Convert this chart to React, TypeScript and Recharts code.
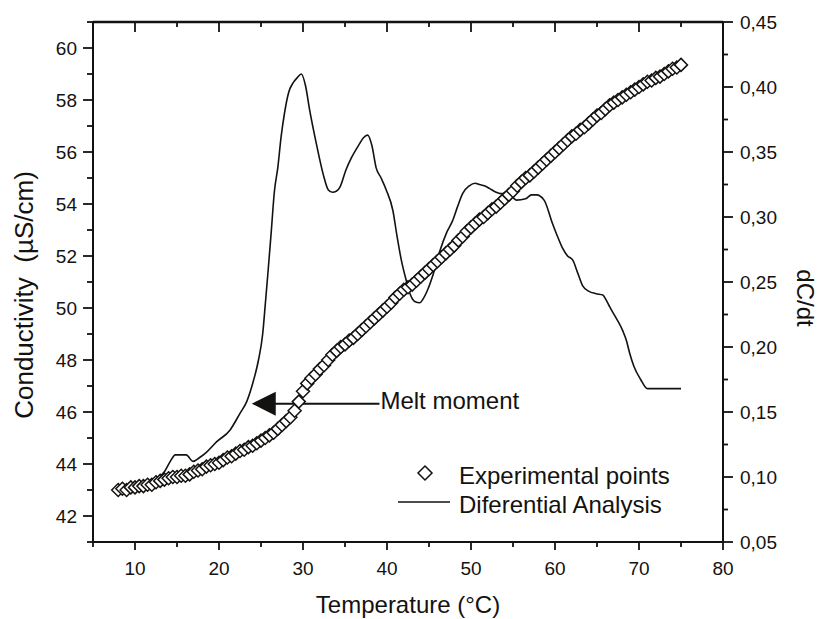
import React from 'react';
import { ComposedChart, Line, Scatter, XAxis, YAxis, ReferenceLine, Legend } from 'recharts';

// Experimental points: temperature (°C) and conductivity (µS/cm)
const expTemp = [
  8, 8.5, 9, 9.5, 10, 10.5, 11, 11.5, 12, 12.5, 13, 13.5, 14, 14.5, 15, 15.5, 16, 16.5, 17, 17.5,
  18, 18.5, 19, 19.5, 20, 20.5, 21, 21.5, 22, 22.5, 23, 23.5, 24, 24.5, 25, 25.5, 26, 26.5, 27, 27.5,
  28, 28.5, 29, 29.5, 30, 30.5, 31, 31.5, 32, 32.5, 33, 33.5, 34, 34.5, 35, 35.5, 36, 36.5, 37, 37.5,
  38, 38.5, 39, 39.5, 40, 40.5, 41, 41.5, 42, 42.5, 43, 43.5, 44, 44.5, 45, 45.5, 46, 46.5, 47, 47.5,
  48, 48.5, 49, 49.5, 50, 50.5, 51, 51.5, 52, 52.5, 53, 53.5, 54, 54.5, 55, 55.5, 56, 56.5, 57, 57.5,
  58, 58.5, 59, 59.5, 60, 60.5, 61, 61.5, 62, 62.5, 63, 63.5, 64, 64.5, 65, 65.5, 66, 66.5, 67, 67.5,
  68, 68.5, 69, 69.5, 70, 70.5, 71, 71.5, 72, 72.5, 73, 73.5, 74, 74.5, 75,
];
const expCond = [
  43.0, 43.05, 43.0, 43.1, 43.1, 43.15, 43.15, 43.2, 43.2, 43.3, 43.35, 43.4, 43.45, 43.5, 43.5, 43.55, 43.55, 43.6, 43.7, 43.75,
  43.8, 43.9, 43.95, 44.0, 44.05, 44.15, 44.25, 44.3, 44.4, 44.5, 44.55, 44.65, 44.7, 44.8, 44.9, 45.0, 45.1, 45.2, 45.35, 45.5,
  45.65, 45.8, 46.05, 46.4, 46.8, 47.1, 47.3, 47.45, 47.65, 47.8, 48.0, 48.2, 48.35, 48.5, 48.6, 48.75, 48.85, 49.0, 49.15, 49.3,
  49.45, 49.6, 49.75, 49.9, 50.05, 50.2, 50.4, 50.55, 50.7, 50.8, 50.9, 51.05, 51.2, 51.35, 51.5, 51.65, 51.8, 51.95, 52.1, 52.25,
  52.4, 52.6, 52.75, 52.95, 53.1, 53.25, 53.4, 53.5, 53.65, 53.8, 53.9, 54.05, 54.2, 54.35, 54.5, 54.7, 54.85, 55.0, 55.1, 55.25,
  55.4, 55.55, 55.7, 55.85, 56.0, 56.15, 56.3, 56.45, 56.6, 56.7, 56.85, 56.95, 57.1, 57.25, 57.4, 57.5, 57.65, 57.8, 57.9, 58.0,
  58.1, 58.2, 58.3, 58.4, 58.5, 58.6, 58.7, 58.75, 58.85, 58.9, 59.0, 59.1, 59.2, 59.25, 59.35,
];

// Differential analysis: temperature (°C) and dC/dt
const diffTemp = [
  8.0, 9.5, 11.0, 12.5, 13.5, 14.2, 14.8, 16.1, 16.9, 17.7, 18.5, 19.7, 21.3, 22.5, 23.3, 24.1, 24.7, 25.2, 25.5, 25.8,
  26.2, 26.6, 27.0, 27.4, 27.8, 28.3, 28.8, 29.3, 29.8, 30.3, 30.8, 31.6, 32.4, 33.0, 33.5, 34.0, 34.4, 35.1, 35.8, 36.7,
  37.2, 37.7, 38.2, 38.7, 39.3, 39.9, 40.7, 41.2, 41.7, 42.3, 42.8, 43.3, 43.9, 44.3, 44.9, 45.5, 46.3, 47.1, 47.8, 48.4,
  49.0, 49.8, 50.5, 51.0, 51.6, 52.2, 53.0, 53.5, 54.3, 55.0, 55.4, 56.5, 57.2, 57.8, 58.7, 59.7, 60.3, 60.9, 61.5, 62.1,
  62.7, 63.3, 64.0, 64.9, 65.7, 66.1, 66.5, 67.3, 68.1, 68.5, 68.9, 69.4, 70.2, 71.0, 75.0,
];
const diffRate = [
  0.090, 0.091, 0.094, 0.098, 0.104, 0.112, 0.117, 0.117, 0.112, 0.115, 0.119, 0.127, 0.136, 0.149, 0.158, 0.174, 0.190, 0.210, 0.232, 0.255,
  0.287, 0.320, 0.338, 0.362, 0.380, 0.396, 0.403, 0.407, 0.410, 0.401, 0.382, 0.356, 0.333, 0.321, 0.319, 0.320, 0.323, 0.336, 0.346, 0.356,
  0.361, 0.363, 0.355, 0.338, 0.330, 0.321, 0.305, 0.285, 0.267, 0.251, 0.240, 0.235, 0.234, 0.237, 0.245, 0.256, 0.274, 0.288, 0.297, 0.308,
  0.318, 0.324, 0.326, 0.325, 0.324, 0.322, 0.319, 0.318, 0.318, 0.315, 0.313, 0.314, 0.317, 0.317, 0.313, 0.295, 0.285, 0.276, 0.270, 0.267,
  0.257, 0.247, 0.243, 0.241, 0.240, 0.236, 0.231, 0.222, 0.212, 0.205, 0.195, 0.185, 0.175, 0.168, 0.168,
];

// Axis ticks
const xTicks = [5, 10, 15, 20, 25, 30, 35, 40, 45, 50, 55, 60, 65, 70, 75, 80];
const xMajorTicks = [10, 20, 30, 40, 50, 60, 70, 80];
const leftTicks = [41, 42, 43, 44, 45, 46, 47, 48, 49, 50, 51, 52, 53, 54, 55, 56, 57, 58, 59, 60, 61];
const leftMajorTicks = [42, 44, 46, 48, 50, 52, 54, 56, 58, 60];
const leftMax = 61;
const rightTicks = [0.05, 0.075, 0.1, 0.125, 0.15, 0.175, 0.2, 0.225, 0.25, 0.275, 0.3, 0.325, 0.35, 0.375, 0.4, 0.425, 0.45];
const rightMajorTicks = [0.05, 0.1, 0.15, 0.2, 0.25, 0.3, 0.35, 0.4, 0.45];
const rightTickLabels = ['0,05', '0,10', '0,15', '0,20', '0,25', '0,30', '0,35', '0,40', '0,45'];

// Annotation
const meltTip = { t: 23.9, c: 46.32 };
const meltEnd = { t: 39.1, c: 46.32 };
const meltLabel = 'Melt moment';

const expData = expTemp.map((t, i) => ({ t, c: expCond[i] }));
const diffData = diffTemp.map((t, i) => ({ t, r: diffRate[i] }));

const FONT = '"Liberation Sans", Arial, Helvetica, sans-serif';
const INK = '#141210';

const BottomTick = (props: any) => {
  const { x, y, payload } = props;
  const major = xMajorTicks.includes(payload.value);
  return (
    <g>
      <line x1={x} x2={x} y1={y} y2={y + (major ? 8 : 5)} stroke={INK} strokeWidth={1.8} />
      {major && (
        <text x={x} y={y + 33} textAnchor="middle" fontFamily={FONT} fontSize={19} fill={INK}>
          {payload.value}
        </text>
      )}
    </g>
  );
};

const TopTick = (props: any) => {
  const { x, y, payload } = props;
  const major = xMajorTicks.includes(payload.value);
  return <line x1={x} x2={x} y1={y} y2={y + (major ? 10 : 5)} stroke={INK} strokeWidth={1.8} />;
};

const LeftTick = (props: any) => {
  const { x, y, payload } = props;
  const major = leftMajorTicks.includes(payload.value);
  return (
    <g>
      <line x1={x} x2={x - (major ? 10 : 6)} y1={y} y2={y} stroke={INK} strokeWidth={1.8} />
      {major && (
        <text x={x - 16} y={y} dy="0.36em" textAnchor="end" fontFamily={FONT} fontSize={19} fill={INK}>
          {payload.value}
        </text>
      )}
    </g>
  );
};

const RightTick = (props: any) => {
  const { x, y, payload } = props;
  const idx = rightMajorTicks.findIndex((v) => Math.abs(v - payload.value) < 1e-6);
  const major = idx >= 0;
  return (
    <g>
      <line x1={x} x2={x + (major ? 10 : 5)} y1={y} y2={y} stroke={INK} strokeWidth={1.8} />
      {major && (
        <text x={x + 17} y={y} dy="0.36em" textAnchor="start" fontFamily={FONT} fontSize={19} fill={INK}>
          {rightTickLabels[idx]}
        </text>
      )}
    </g>
  );
};

const Diamond = (props: any) => {
  const { cx, cy } = props;
  if (cx == null || cy == null) return null;
  const s = 6.5;
  return (
    <polygon
      points={`${cx},${cy - s} ${cx + s},${cy} ${cx},${cy + s} ${cx - s},${cy}`}
      fill="#fff"
      stroke={INK}
      strokeWidth={1.5}
    />
  );
};

const MeltArrow = (props: any) => {
  const { x1, y1, x2 } = props;
  if (x1 == null) return null;
  return (
    <g>
      <polygon points={`${x1},${y1} ${x1 + 24},${y1 - 12} ${x1 + 24},${y1 + 12}`} fill={INK} />
      <line x1={x1 + 20} x2={x2} y1={y1} y2={y1} stroke={INK} strokeWidth={2} />
      <text x={x2 + 1} y={y1 + 5} fontFamily={FONT} fontSize={24} fill={INK}>
        {meltLabel}
      </text>
    </g>
  );
};

const LegendBox = () => (
  <svg width={320} height={64} style={{ display: 'block', overflow: 'visible' }}>
    <polygon points="35,6 42,13 35,20 28,13" fill="#fff" stroke={INK} strokeWidth={1.5} />
    <text x={69} y={24} fontFamily={FONT} fontSize={24} fill={INK}>Experimental points</text>
    <line x1={8} x2={60} y1={42} y2={42} stroke={INK} strokeWidth={1.6} />
    <text x={69} y={53} fontFamily={FONT} fontSize={24} fill={INK}>Diferential Analysis</text>
  </svg>
);

export default function App() {
  return (
    <div style={{ position: 'absolute', left: 0, top: 0, width: 818, height: 619, background: '#fff' }}>
      <ComposedChart width={818} height={619} margin={{ top: 21, right: 0, bottom: 0, left: 0 }}>
        <XAxis
          xAxisId="bottom"
          dataKey="t"
          type="number"
          domain={[5, 80]}
          ticks={xTicks}
          allowDataOverflow
          orientation="bottom"
          height={77}
          tickSize={0}
          tickMargin={0}
          tickLine={false}
          tick={<BottomTick />}
          interval={0}
          axisLine={{ stroke: INK, strokeWidth: 2 }}
          label={{
            content: (p: any) => {
              const vb = p.viewBox;
              return (
                <text x={vb.x + vb.width / 2} y={vb.y + 71} textAnchor="middle" fontFamily={FONT} fontSize={24} fill={INK}>
                  Temperature (°C)
                </text>
              );
            },
          }}
        />
        <XAxis
          xAxisId="top"
          dataKey="t"
          type="number"
          domain={[5, 80]}
          ticks={xTicks}
          allowDataOverflow
          orientation="top"
          height={1}
          tickSize={0}
          tickMargin={0}
          tickLine={false}
          tick={<TopTick />}
          interval={0}
          axisLine={{ stroke: INK, strokeWidth: 2.5 }}
        />
        <YAxis
          yAxisId="left"
          dataKey="c"
          type="number"
          domain={[41, 61]}
          ticks={leftTicks}
          allowDataOverflow
          orientation="left"
          width={93}
          tickSize={0}
          tickMargin={0}
          tickLine={false}
          tick={<LeftTick />}
          interval={0}
          axisLine={{ stroke: INK, strokeWidth: 2 }}
          label={{
            content: (p: any) => {
              const vb = p.viewBox;
              const cx = vb.x + 33;
              const cy = vb.y + vb.height / 2 + 13;
              return (
                <text x={cx} y={cy} textAnchor="middle" fontFamily={FONT} fontSize={26} fill={INK} transform={`rotate(-90, ${cx}, ${cy})`}>
                  {'Conductivity\u00A0 (µS/cm)'}
                </text>
              );
            },
          }}
        />
        <YAxis
          yAxisId="right"
          dataKey="r"
          type="number"
          domain={[0.05, 0.45]}
          ticks={rightTicks}
          allowDataOverflow
          orientation="right"
          width={95}
          tickSize={0}
          tickMargin={0}
          tickLine={false}
          tick={<RightTick />}
          interval={0}
          axisLine={{ stroke: INK, strokeWidth: 2 }}
          label={{
            content: (p: any) => {
              const vb = p.viewBox;
              const cx = vb.x + 74;
              const cy = vb.y + vb.height / 2 + 16;
              return (
                <text x={cx} y={cy} textAnchor="middle" fontFamily={FONT} fontSize={24} fill={INK} transform={`rotate(90, ${cx}, ${cy})`}>
                  dC/dt
                </text>
              );
            },
          }}
        />
        <Line
          xAxisId="bottom"
          yAxisId="right"
          data={diffData}
          dataKey="r"
          type="monotone"
          stroke={INK}
          strokeWidth={1.6}
          dot={false}
          activeDot={false}
          isAnimationActive={false}
        />
        <Scatter
          xAxisId="bottom"
          yAxisId="left"
          data={expData}
          dataKey="c"
          shape={<Diamond />}
          isAnimationActive={false}
        />
        <ReferenceLine xAxisId="bottom" yAxisId="left" y={leftMax} stroke={INK} strokeWidth={2} ifOverflow="visible" />
        <ReferenceLine
          xAxisId="bottom"
          yAxisId="left"
          segment={[{ x: meltTip.t, y: meltTip.c }, { x: meltEnd.t, y: meltEnd.c }]}
          shape={(p: any) => <MeltArrow {...p} />}
        />
        <Legend
          layout="vertical"
          align="center"
          verticalAlign="middle"
          content={() => <LegendBox />}
          wrapperStyle={{ position: 'absolute', left: 390, top: 460, width: 320, height: 64 }}
        />
      </ComposedChart>
    </div>
  );
}
